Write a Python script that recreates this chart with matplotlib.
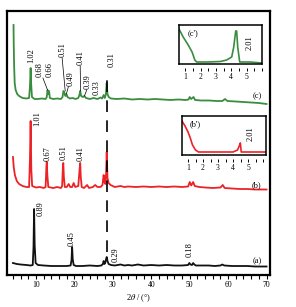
import matplotlib
matplotlib.use("Agg")
import matplotlib.pyplot as plt
from matplotlib.ticker import MultipleLocator

plt.rcParams['font.family'] = ['Liberation Serif', 'DejaVu Serif']
plt.rcParams['mathtext.fontset'] = 'stix'

# XRD patterns, 2theta (deg) vs intensity (a.u., offset per curve)
a_pts = [(4.0, 12), (5.0, 11), (6.0, 10.5), (7.5, 10), (8.6, 9.5), (9.15, 10),
         (9.35, 28), (9.5, 66), (9.65, 30), (9.9, 12), (10.5, 10), (12, 9.5),
         (14, 9), (16, 9), (18, 9), (19.0, 9.5), (19.25, 15), (19.4, 28),
         (19.55, 16), (19.8, 10), (20.4, 9), (22, 9), (24, 9.5), (26, 9),
         (27.0, 9.5), (27.4, 11), (27.6, 14), (27.8, 11), (28.0, 12), (28.25, 16),
         (28.4, 18), (28.6, 14), (28.9, 11), (29.5, 10), (30.5, 9.5), (32, 10.5),
         (33, 9.5), (34, 10), (35, 9.5), (36.5, 10.5), (38, 9.5), (40, 10),
         (42, 9.5), (44, 10), (46, 9.5), (48, 9.5), (49.6, 10), (49.9, 12),
         (50.2, 10.5), (50.6, 10), (50.9, 12), (51.2, 10.5), (51.6, 9.5), (53, 9.5),
         (55, 9.5), (56.5, 9), (58, 9.5), (58.5, 10.5), (59, 9.5), (61, 9),
         (63, 9), (65, 9), (67, 8.5), (70, 8.5)]

b_pts = [(4.0, 118), (4.2, 108), (4.5, 100), (5.0, 94), (5.6, 91), (6.5, 89),
         (7.5, 88), (8.2, 88), (8.42, 115), (8.6, 154), (8.78, 105), (9.0, 89),
         (10, 87.5), (11, 88), (12, 87), (12.5, 88), (12.7, 108), (12.8, 113),
         (12.95, 100), (13.2, 88), (14.5, 87), (15.5, 88), (16.5, 87), (16.8, 89),
         (17.0, 108), (17.1, 112), (17.25, 98), (17.5, 88), (18.0, 88), (18.5, 91),
         (18.9, 88), (19.4, 88), (19.8, 92), (20.2, 88), (21.0, 89), (21.35, 106),
         (21.5, 112), (21.65, 98), (21.9, 88), (22.5, 87), (23.3, 90), (23.8, 87),
         (24.8, 88), (25.4, 90), (26.0, 88), (26.8, 88), (27.3, 90), (27.6, 100),
         (27.8, 93), (28.05, 91), (28.25, 102), (28.4, 123), (28.6, 97), (28.9, 92),
         (29.4, 90), (30.5, 88), (32, 89), (33, 88), (34, 88.5), (36, 88),
         (38, 88.5), (40, 88), (42, 88.5), (44, 88), (46, 88.5), (48, 88),
         (49.6, 88.5), (50.0, 93), (50.4, 89.5), (50.9, 93), (51.3, 89), (52.5, 88),
         (54, 87.5), (56, 87), (58, 87.5), (58.6, 90), (59.1, 87), (61, 86.5),
         (63, 86), (65, 86), (67, 85.5), (70, 85.5)]

c_pts = [(4.15, 250), (4.2, 232), (4.3, 210), (4.45, 192), (4.7, 185), (5.1, 181),
         (5.6, 179), (6.5, 177), (7.5, 176.5), (8.2, 177), (8.42, 188), (8.6, 207),
         (8.75, 190), (8.95, 178), (9.6, 176), (10.5, 176), (11.5, 176.5), (12.5, 176),
         (12.8, 178), (13.0, 185), (13.2, 181), (13.4, 184), (13.6, 177), (14.5, 176),
         (15.5, 176.5), (16.5, 176), (16.9, 178), (17.15, 184), (17.4, 182), (17.65, 179),
         (17.9, 181), (18.2, 178), (18.8, 176.5), (19.5, 177), (20.3, 176), (21.0, 177),
         (21.3, 180), (21.5, 184), (21.75, 179), (22.2, 178), (22.6, 179), (23.0, 177),
         (24, 176), (25, 177), (26, 176), (26.8, 177.5), (27.2, 176.5), (27.6, 180),
         (27.9, 177), (28.2, 181), (28.4, 192), (28.6, 181), (28.9, 178), (29.5, 176.5),
         (31, 176), (33, 176.5), (35, 175.5), (37, 176), (39, 175.5), (41, 176),
         (43, 175.5), (45, 175), (47, 175.5), (49, 175), (49.7, 175.5), (50.0, 178),
         (50.4, 176), (51.0, 178), (51.4, 175), (53, 174.5), (55, 174.5), (57, 174),
         (58.5, 174), (59.2, 176), (59.8, 174), (62, 173.5), (64, 173), (66, 172.5),
         (68, 172), (70, 171)]

# low-angle insets
bi_pts = [(0.6, 34), (0.8, 29), (1.0, 23), (1.13, 18), (1.3, 10), (1.5, 5), (1.7, 3),
          (2.0, 3), (3.0, 3), (4.0, 3), (4.3, 5), (4.42, 9), (4.49, 12), (4.55, 3),
          (5.0, 3), (6.2, 3)]
ci_pts = [(0.6, 35), (0.87, 27), (1.2, 19), (1.45, 12), (1.63, 4), (1.75, 2),
          (2.5, 2), (3.3, 2.5), (3.7, 4), (4.03, 7), (4.16, 17), (4.29, 33),
          (4.35, 33), (4.42, 17), (4.55, 2), (5.2, 2), (6.0, 1)]

# peak labels: (text, x, y bottom)
a_labels = [('0.89', 11.2, 59), ('0.45', 19.3, 29), ('0.29', 30.6, 13), ('0.18', 49.9, 18)]
b_labels = [('1.01', 10.3, 149), ('0.67', 13.1, 114), ('0.51', 17.2, 115), ('0.41', 21.5, 114)]
c_labels = [('1.02', 8.7, 212), ('0.68', 11.0, 198), ('0.66', 13.6, 198), ('0.51', 16.8, 218),
            ('0.49', 18.9, 189), ('0.41', 21.5, 210), ('0.39', 23.5, 186), ('0.33', 25.9, 180),
            ('0.31', 29.8, 208)]
c_leaders = [((11.8, 197), (13.0, 185)), ((16.8, 217), (17.6, 184)),
             ((18.4, 188), (17.9, 181)), ((21.5, 209), (21.6, 184)),
             ((23.2, 185), (22.6, 179))]

green = '#3a8d3f'
red = '#ec2227'
black = '#111111'

fig = plt.figure(figsize=(2.96, 3.07), dpi=100)
ax = fig.add_axes([7 / 296, 32 / 307, 263 / 296, 264 / 307])

for pts, col in [(a_pts, black), (b_pts, red), (c_pts, green)]:
    xs, ys = zip(*pts)
    ax.plot(xs, ys, color=col, lw=1.3, solid_joinstyle='round')

ax.plot([28.4, 28.4], [23, 202], color='black', lw=1.2, ls=(0, (7, 5)))

for labels, col in [(a_labels, black), (b_labels, black), (c_labels, black)]:
    for txt, x, y in labels:
        ax.text(x, y, txt, rotation=90, ha='center', va='bottom', fontsize=6)
for p0, p1 in c_leaders:
    ax.plot([p0[0], p1[0]], [p0[1], p1[1]], color='black', lw=0.5)

ax.text(67.5, 179, '(c)', ha='center', va='center', fontsize=6)
ax.text(67.5, 90, '(b)', ha='center', va='center', fontsize=6)
ax.text(67.5, 14, '(a)', ha='center', va='center', fontsize=6)

ax.set_xlim(2.45, 70.9)
ax.set_ylim(0, 264)
ax.set_yticks([])
ax.xaxis.set_major_locator(MultipleLocator(10))
ax.xaxis.set_minor_locator(MultipleLocator(2))
ax.tick_params(axis='x', which='both', direction='out', length=3, width=0.8,
               labelsize=5.5, pad=1.5)
for s in ax.spines.values():
    s.set_linewidth(1.6)
ax.set_xlabel(r'2$\theta$ / (°)', fontsize=6, labelpad=2)


def inset(rect, pts, col, tag, xlim):
    ia = fig.add_axes(rect)
    xs, ys = zip(*pts)
    ia.plot(xs, ys, color=col, lw=1.2)
    ia.set_xlim(*xlim)
    ia.set_ylim(0, 39)
    ia.set_yticks([])
    ia.xaxis.set_major_locator(MultipleLocator(1))
    ia.xaxis.set_minor_locator(MultipleLocator(0.5))
    ia.set_xticks([1, 2, 3, 4, 5])
    ia.tick_params(axis='x', which='both', direction='out', length=2.5, width=0.7,
                   labelsize=5.5, pad=1)
    for s in ia.spines.values():
        s.set_linewidth(1.1)
    ia.spines['bottom'].set_position(('outward', 3))
    ia.spines['bottom'].set_color('none')
    ia.plot(xlim, [0, 0], color='black', lw=1.1, clip_on=False, solid_capstyle='projecting')
    ia.text(1.5, 31, tag, ha='center', va='center', fontsize=6)
    ia.text(5.2, 21, '2.01', rotation=90, ha='center', va='center', fontsize=6)
    return ia


inset([179 / 296, 243 / 307, 83 / 296, 39 / 307], ci_pts, green, "(c')", (0.6, 6.0))
inset([182 / 296, 152 / 307, 84 / 296, 39 / 307], bi_pts, red, "(b')", (0.6, 6.2))

fig.savefig('out.png', dpi=100)
